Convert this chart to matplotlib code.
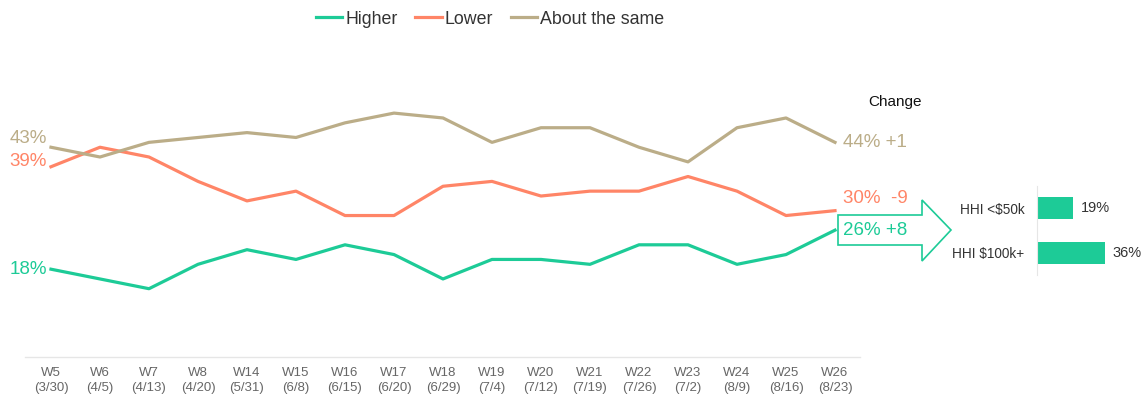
import matplotlib
matplotlib.use("Agg")
import matplotlib.pyplot as plt
from matplotlib.patches import Polygon

plt.rcParams['font.family'] = ['Liberation Sans', 'DejaVu Sans']

weeks = ["W5", "W6", "W7", "W8", "W14", "W15", "W16", "W17", "W18",
         "W19", "W20", "W21", "W22", "W23", "W24", "W25", "W26"]
dates = ["(3/30)", "(4/5)", "(4/13)", "(4/20)", "(5/31)", "(6/8)", "(6/15)", "(6/20)",
         "(6/29)", "(7/4)", "(7/12)", "(7/19)", "(7/26)", "(7/2)", "(8/9)", "(8/16)", "(8/23)"]
higher = [18, 16, 14, 19, 22, 20, 23, 21, 16, 20, 20, 19, 23, 23, 19, 21, 26]
lower = [39, 43, 41, 36, 32, 34, 29, 29, 35, 36, 33, 34, 34, 37, 34, 29, 30]
same = [43, 41, 44, 45, 46, 45, 48, 50, 49, 44, 47, 47, 43, 40, 47, 49, 44]
changes = ["+8", "-9", "+1"]

income_groups = ["HHI <$50k", "HHI $100k+"]
income_values = [19, 36]

GREEN = "#1DCB97"
ORANGE = "#FF8567"
TAN = "#BBAD88"
TEXT = "#333333"

W, H = 1148, 397
fig = plt.figure(figsize=(W / 100, H / 100), dpi=100)

def ax_rect(x0, y0, x1, y1):
    return [x0 / W, 1 - y1 / H, (x1 - x0) / W, (y1 - y0) / H]

ax = fig.add_axes(ax_rect(25, 57, 860, 357))
x = list(range(len(weeks)))
lw = 2.3
lh, = ax.plot(x, higher, color=GREEN, lw=lw, label="Higher")
ll, = ax.plot(x, lower, color=ORANGE, lw=lw, label="Lower")
ls, = ax.plot(x, same, color=TAN, lw=lw, label="About the same")
ax.set_xlim(-0.53, 16.51)
ax.set_ylim(0, 61.5)
for s in ["top", "right", "left"]:
    ax.spines[s].set_visible(False)
ax.spines["bottom"].set_color("#e6e6e6")
ax.spines["bottom"].set_linewidth(1)
ax.set_yticks([])
ax.set_xticks(x)
ax.set_xticklabels([f"{w}\n{d}" for w, d in zip(weeks, dates)], fontsize=9.5,
                   color="#666666", linespacing=1.35)
ax.tick_params(axis="x", length=0, pad=7)

# start labels
fs = 13.5
for vals, col, dy in [(higher, GREEN, 0), (lower, ORANGE, 4), (same, TAN, 6)]:
    ax.annotate(f"{vals[0]}%", (0, vals[0]), xytext=(-3, dy), textcoords="offset points",
                ha="right", va="center", color=col, fontsize=fs)
# end labels
last = len(weeks) - 1
ax.annotate(f"{same[-1]}% {changes[2]}", (last, same[-1]), xytext=(6, 0),
            textcoords="offset points", ha="left", va="center", color=TAN,
            fontsize=fs, annotation_clip=False)
ax.annotate(f"{lower[-1]}%  {changes[1]}", (last, lower[-1]), xytext=(6, 9),
            textcoords="offset points", ha="left", va="center", color=ORANGE,
            fontsize=fs, annotation_clip=False)
ax.annotate(f"{higher[-1]}% {changes[0]}", (last, higher[-1]), xytext=(6, 0),
            textcoords="offset points", ha="left", va="center", color=GREEN,
            fontsize=fs, annotation_clip=False)

fig.text(868 / W, 1 - 102 / H, "Change", fontsize=11, color="#111111",
         ha="left", va="center")

# arrow outline (figure pixel coords)
arrow_px = [(838, 215), (922, 215), (922, 200), (951, 230), (922, 261),
            (922, 245), (838, 245)]
arrow = Polygon([(px / W, 1 - py / H) for px, py in arrow_px], closed=True,
                fill=False, edgecolor=GREEN, lw=1.2, transform=fig.transFigure)
fig.patches.append(arrow)

# legend
leg = fig.legend(handles=[lh, ll, ls], loc="center", bbox_to_anchor=(490 / W, 1 - 19 / H),
                 ncol=3, frameon=False, fontsize=12.8, handlelength=1.5,
                 handletextpad=0.15, columnspacing=1.0)
for t in leg.get_texts():
    t.set_color(TEXT)

# bar chart
bx = fig.add_axes(ax_rect(1037, 186, 1130, 275))
yb = [0, 1]
bx.barh(yb, income_values, height=0.49, color=GREEN)
bx.set_xlim(0, 93 / 1.89)
bx.set_ylim(1.5, -0.5)
for s in ["top", "right", "bottom"]:
    bx.spines[s].set_visible(False)
bx.spines["left"].set_color("#e6e6e6")
bx.set_xticks([])
bx.set_yticks(yb)
bx.set_yticklabels(income_groups, fontsize=9.8, color=TEXT)
bx.tick_params(axis="y", length=0, pad=9)
for yy, v in zip(yb, income_values):
    bx.text(v + 4, yy, f"{v}%", va="center", ha="left", fontsize=10.5, color=TEXT)

fig.savefig("out.png", dpi=100)
